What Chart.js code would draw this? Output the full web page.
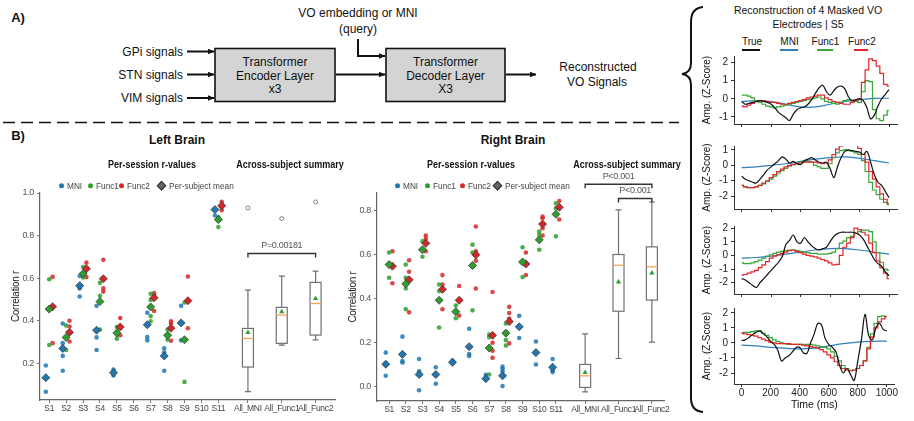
<!DOCTYPE html>
<html>
<head>
<meta charset="utf-8">
<script src="https://cdn.jsdelivr.net/npm/chart.js@4.4.1/dist/chart.umd.min.js"></script>
<style>
  body { margin: 0; background: #fff; font-family: "Liberation Sans", Arial, sans-serif; }
  #page { position: relative; width: 914px; height: 421px; overflow: hidden; background: #fff; }
  canvas { position: absolute; }
  svg { position: absolute; left: 0; top: 0; }
  .t { position: absolute; transform: translate(-50%, -50%); white-space: nowrap; line-height: 1; color: #111; }
  .b { font-weight: bold; }
  .sq { transform: translate(-50%, -50%) scaleX(0.9); }
  .lg { position: absolute; transform: translateY(-50%); white-space: nowrap; font-size: 9.5px; color: #444; line-height: 1; }
  .lg span { display: inline-block; transform: scaleX(0.87); transform-origin: left center; }
  .dot { display: inline-block; width: 5px; height: 5px; border-radius: 50%; margin-right: 3px; vertical-align: middle; position: relative; top: -1px; }
  .dia { display: inline-block; width: 5px; height: 5px; margin-right: 4px; margin-left: 1px; background: #666; border: 0.8px solid #333; transform: rotate(45deg); vertical-align: middle; position: relative; top: -1px; }
  .tl { position: absolute; height: 2px; }
</style>
</head>
<body>
<div id="page">
  <svg width="914" height="421" viewBox="0 0 914 421">
    <defs>
      <marker id="ah" markerWidth="7" markerHeight="6" refX="6.5" refY="3" orient="auto" markerUnits="userSpaceOnUse">
        <path d="M0,0 L7,3 L0,6 z" fill="#111"/>
      </marker>
    </defs>
    <g stroke="#111" stroke-width="2" fill="none">
      <line x1="187" y1="51.5" x2="214" y2="51.5" marker-end="url(#ah)"/>
      <line x1="187" y1="74.5" x2="214" y2="74.5" marker-end="url(#ah)"/>
      <line x1="187" y1="98" x2="214" y2="98" marker-end="url(#ah)"/>
      <line x1="336" y1="74.5" x2="385" y2="74.5" marker-end="url(#ah)"/>
      <path d="M358 39 L358 56 L385 56" marker-end="url(#ah)"/>
      <line x1="506" y1="74.5" x2="536" y2="74.5" marker-end="url(#ah)"/>
    </g>
    <rect x="215" y="48.5" width="120" height="53" fill="#d4d4d4" stroke="#111" stroke-width="1.6"/>
    <rect x="386" y="48.5" width="119" height="53" fill="#d4d4d4" stroke="#111" stroke-width="1.6"/>
    <g font-family="Liberation Sans, Arial, sans-serif" font-size="12" fill="#111">
      <text x="183" y="51.5" text-anchor="end" dominant-baseline="central">GPi signals</text>
      <text x="183" y="74.5" text-anchor="end" dominant-baseline="central">STN signals</text>
      <text x="183" y="98" text-anchor="end" dominant-baseline="central">VIM signals</text>
      <text x="275" y="62" text-anchor="middle" dominant-baseline="central">Transformer</text>
      <text x="275" y="75.5" text-anchor="middle" dominant-baseline="central">Encoder Layer</text>
      <text x="275" y="89" text-anchor="middle" dominant-baseline="central">x3</text>
      <text x="445.5" y="62" text-anchor="middle" dominant-baseline="central">Transformer</text>
      <text x="445.5" y="75.5" text-anchor="middle" dominant-baseline="central">Decoder Layer</text>
      <text x="445.5" y="89" text-anchor="middle" dominant-baseline="central">X3</text>
      <text x="358" y="13" text-anchor="middle" dominant-baseline="central">VO embedding or MNI</text>
      <text x="358" y="28.5" text-anchor="middle" dominant-baseline="central">(query)</text>
      <text x="598" y="66.5" text-anchor="middle" dominant-baseline="central">Reconstructed</text>
      <text x="597" y="81.5" text-anchor="middle" dominant-baseline="central">VO Signals</text>
    </g>
    <line x1="3" y1="122.5" x2="679" y2="122.5" stroke="#111" stroke-width="1.6" stroke-dasharray="12 6"/>
    <path d="M703 7 Q691 8 691 22 L691 63 Q691 73 682 74 Q691 75 691 85 L691 398 Q691 411 703 412" stroke="#111" stroke-width="2" fill="none"/>
  </svg>

  <canvas id="leftChart" width="340" height="256" style="left:0px;top:165px"></canvas>
  <canvas id="rightChart" width="332" height="256" style="left:340px;top:165px"></canvas>
  <canvas id="trace1" width="201" height="86" style="left:697px;top:47px"></canvas>
  <canvas id="trace2" width="201" height="81" style="left:697px;top:137px"></canvas>
  <canvas id="trace3" width="201" height="86" style="left:697px;top:217px"></canvas>
  <canvas id="trace4" width="201" height="115" style="left:697px;top:299px"></canvas>

  <div class="t b" style="left:18px;top:17px;font-size:13px">A)</div>
  <div class="t b" style="left:18px;top:135px;font-size:13px">B)</div>
  <div class="t b" style="left:177px;top:140px;font-size:12px">Left Brain</div>
  <div class="t b" style="left:513px;top:140px;font-size:12px">Right Brain</div>
  <div class="t b sq" style="left:152px;top:165px;font-size:10px">Per-session r-values</div>
  <div class="t b sq" style="left:290px;top:165px;font-size:10px">Across-subject summary</div>
  <div class="t b sq" style="left:471px;top:165px;font-size:10px">Per-session r-values</div>
  <div class="t b sq" style="left:627px;top:165px;font-size:10px">Across-subject summary</div>

  <div class="lg" style="left:59px;top:186px"><i class="dot" style="background:#1f77b4"></i><span>MNI</span></div>
  <div class="lg" style="left:88px;top:186px"><i class="dot" style="background:#2ca02c"></i><span>Func1</span></div>
  <div class="lg" style="left:119px;top:186px"><i class="dot" style="background:#d62728"></i><span>Func2</span></div>
  <div class="lg" style="left:157px;top:186px"><i class="dia"></i><span>Per-subject mean</span></div>
  <div class="lg" style="left:395px;top:186px"><i class="dot" style="background:#1f77b4"></i><span>MNI</span></div>
  <div class="lg" style="left:425px;top:186px"><i class="dot" style="background:#2ca02c"></i><span>Func1</span></div>
  <div class="lg" style="left:460px;top:186px"><i class="dot" style="background:#d62728"></i><span>Func2</span></div>
  <div class="lg" style="left:493px;top:186px"><i class="dia"></i><span>Per-subject mean</span></div>

  <div class="t" style="left:808px;top:10px;font-size:10.5px">Reconstruction of 4 Masked VO</div>
  <div class="t" style="left:808px;top:24px;font-size:10.5px">Electrodes | S5</div>
  <div class="t" style="left:752px;top:41.5px;font-size:10px">True</div>
  <div class="t" style="left:789.5px;top:41.5px;font-size:10px">MNI</div>
  <div class="t" style="left:825.5px;top:41.5px;font-size:10px">Func1</div>
  <div class="t" style="left:862px;top:41.5px;font-size:10px">Func2</div>
  <div class="tl" style="left:742px;top:48.5px;width:18px;background:#111"></div>
  <div class="tl" style="left:780px;top:48.5px;width:18px;background:#2e7ebc"></div>
  <div class="tl" style="left:817px;top:48.5px;width:16px;background:#3aa63a"></div>
  <div class="tl" style="left:854px;top:48.5px;width:14px;background:#e3262b"></div>
</div>

<script>
// ---- per-session r values (B) ----
const subjects = ['S1', 'S2', 'S3', 'S4', 'S5', 'S6', 'S7', 'S8', 'S9', 'S10', 'S11'];
const summaryLabels = ['All_MNI', 'All_Func1', 'All_Func2'];
const yTicksLeft = [0.2, 0.4, 0.6, 0.8, 1.0];
const yTicksRight = [0.0, 0.2, 0.4, 0.6, 0.8];

const leftMniSessions = [[0.19, 0.067], [0.387, 0.295, 0.235, 0.165], [0.61, 0.552, 0.514], [0.47, 0.322, 0.263], [0.171, 0.157, 0.143], [], [0.438, 0.324, 0.308], [0.271, 0.252, 0.165], [0.47, 0.308], [], [0.894]];
const leftFunc1Sessions = [[0.595, 0.286], [0.378, 0.263], [0.652, 0.603], [0.578, 0.517, 0.359], [0.371, 0.316], [], [0.527, 0.498, 0.422, 0.398], [0.359, 0.332, 0.311], [0.486, 0.113], [], [0.887, 0.84]];
const leftFunc2Sessions = [[0.606, 0.295], [0.40, 0.373, 0.303], [0.673, 0.605, 0.645], [0.686, 0.552, 0.537], [0.413, 0.332], [], [0.53, 0.517, 0.446], [0.397, 0.387, 0.306], [0.608, 0.365], [], [0.959, 0.919]];
const leftMniMeans = [0.133, 0.27, 0.565, 0.356, 0.156, null, 0.381, 0.235, 0.39, null, 0.922];
const leftFunc1Means = [0.455, 0.322, 0.621, 0.49, 0.343, null, 0.465, 0.332, 0.311, null, 0.875];
const leftFunc2Means = [0.466, 0.346, 0.644, 0.597, 0.371, null, 0.508, 0.365, 0.494, null, 0.94];
const leftBoxMin = [0.067, 0.286, 0.31];
const leftBoxQ1 = [0.183, 0.294, 0.333];
const leftBoxMedian = [0.317, 0.427, 0.481];
const leftBoxQ3 = [0.364, 0.463, 0.58];
const leftBoxMax = [0.544, 0.61, 0.633];
const leftBoxMean = [0.345, 0.442, 0.505];
const leftOutliers = [0.93, 0.88, 0.958];
const leftBracketFrom = ['All_MNI'];
const leftBracketTo = ['All_Func2'];
const leftBracketY = [0.716];
const leftBracketText = ['P=0.00181'];

const rightMniSessions = [[0.153, 0.047], [0.226, 0.114, 0.108], [0.124, 0.068, -0.019], [0.086, 0.011], [0.117, 0.105], [0.262, 0.147, 0.138], [0.052], [0.089, 0.079, 0.068, 0.0], [0.321, 0.22], [0.204, 0.099], [0.124, 0.071, 0.064]];
const rightFunc1Sessions = [[0.61, 0.495], [0.555, 0.495, 0.446, 0.351], [0.661, 0.591], [0.464, 0.434, 0.268], [0.368, 0.31], [0.646, 0.61, 0.346], [0.235, 0.223, 0.053], [0.286, 0.21, 0.185], [0.634, 0.498], [0.706, 0.691, 0.623], [0.835, 0.812, 0.684]];
const rightFunc2Sessions = [[0.616, 0.47], [0.575, 0.522, 0.337], [0.688, 0.673, 0.616], [0.507, 0.464, 0.351], [0.457, 0.322], [0.729, 0.616, 0.573, 0.446], [0.43, 0.198, 0.162, 0.129], [0.362, 0.334, 0.309, 0.195], [0.61, 0.507], [0.774, 0.767, 0.721, 0.688], [0.845, 0.818, 0.761]];
const rightMniMeans = [0.10, 0.145, 0.053, 0.053, 0.109, 0.18, 0.034, 0.047, 0.271, 0.153, 0.086];
const rightFunc1Means = [0.555, 0.467, 0.623, 0.392, 0.34, 0.551, 0.174, 0.242, 0.567, 0.668, 0.785];
const rightFunc2Means = [0.548, 0.486, 0.652, 0.442, 0.392, 0.60, 0.232, 0.295, 0.558, 0.74, 0.817];
const rightBoxMin = [-0.026, 0.126, 0.201];
const rightBoxQ1 = [-0.006, 0.342, 0.393];
const rightBoxMedian = [0.047, 0.552, 0.545];
const rightBoxQ3 = [0.099, 0.601, 0.636];
const rightBoxMax = [0.239, 0.805, 0.841];
const rightBoxMean = [0.062, 0.476, 0.517];
const rightOutliers = [null, null, null];
const rightBracketFrom = ['All_MNI', 'All_Func1'];
const rightBracketTo = ['All_Func2', 'All_Func2'];
const rightBracketY = [0.922, 0.857];
const rightBracketText = ['P<0.001', 'P<0.001'];

// ---- reconstruction traces (Z-score), S5 ----
const timeMs = [0, 25, 50, 75, 100, 125, 150, 175, 200, 225, 250, 275, 300, 325, 350, 375, 400, 425, 450, 475, 500, 525, 550, 575, 600, 625, 650, 675, 700, 725, 750, 775, 800, 825, 850, 875, 900, 925, 950, 975, 1000];
const timeCoarseMs = [0, 100, 200, 300, 400, 500, 600, 700, 800, 900, 1000];
const timeTicks = [0, 200, 400, 600, 800, 1000];

const e1True = [-0.15, -0.3, -0.25, -0.2, -0.15, -0.1, -0.15, -0.2, -0.3, -0.5, -0.75, -0.9, -1.05, -1.2, -0.85, -0.6, -0.5, -0.45, -0.3, -0.05, 0.3, 0.6, 0.75, 0.4, 0.2, 0.45, 0.65, 0.7, 0.55, 0.1, -0.1, -0.05, 0.0, -0.1, -0.5, -1.1, -0.9, -0.4, 0.0, 0.25, 0.5];
const e1Mni = [-0.15, -0.1, -0.15, -0.3, -0.45, -0.45, -0.3, -0.15, -0.05, 0.02, 0.03];
const e1Func1 = [0.2, 0.2, 0.15, 0.05, -0.1, -0.2, -0.3, -0.4, -0.45, -0.5, -0.45, -0.4, -0.35, -0.3, -0.25, -0.2, -0.15, -0.1, -0.05, 0.0, 0.05, 0.1, 0.0, -0.15, -0.2, -0.25, -0.3, -0.2, -0.1, -0.05, -0.1, -0.15, -0.2, 0.4, 1.0, 0.95, -0.6, -1.1, -1.2, -0.9, -0.65];
const e1Func2 = [-0.4, -0.45, -0.35, -0.25, -0.15, -0.1, -0.1, -0.15, -0.2, -0.2, -0.25, -0.3, -0.3, -0.25, -0.2, -0.15, -0.1, -0.05, 0.05, 0.1, 0.15, 0.2, 0.2, 0.05, -0.05, -0.15, -0.2, -0.25, -0.3, -0.3, -0.2, -0.1, 0.0, 0.9, 1.6, 2.2, 2.1, 1.8, 1.4, 0.8, 0.7];

const e2True = [-0.7, -0.9, -1.0, -1.1, -1.15, -0.9, -0.6, -0.3, -0.1, 0.1, 0.3, 0.55, 0.4, 0.15, 0.25, 0.1, 0.05, 0.3, 0.4, 0.5, 0.35, 0.2, 0.15, 0.2, -0.2, -0.8, -0.1, 0.5, 0.9, 1.0, 0.95, 0.9, 0.85, 0.7, 0.9, 0.2, -0.6, -1.1, -1.3, -1.7, -2.1];
const e2Mni = [-0.15, -0.1, 0.0, 0.1, 0.25, 0.4, 0.5, 0.55, 0.45, 0.3, 0.15];
const e2Func1 = [-1.3, -1.4, -1.45, -1.45, -1.4, -1.3, -1.2, -1.05, -0.9, -0.7, -0.5, -0.35, -0.2, -0.05, 0.05, 0.15, 0.2, 0.25, 0.25, 0.2, 0.0, -0.1, -0.2, -0.2, 0.1, 0.5, 0.8, 0.95, 1.0, 0.95, 0.9, 0.8, 0.7, 0.3, -0.4, -1.1, -1.6, -1.9, -2.2, -2.4, -2.55];
const e2Func2 = [-1.3, -1.4, -1.45, -1.45, -1.4, -1.3, -1.15, -1.0, -0.8, -0.6, -0.4, -0.25, -0.1, 0.0, 0.05, 0.1, 0.15, 0.2, 0.2, 0.2, 0.2, 0.15, 0.1, 0.15, 0.35, 0.7, 1.05, 1.25, 1.35, 1.4, 1.35, 1.3, 1.1, 0.7, 0.2, -0.4, -0.9, -1.4, -1.85, -2.2, -2.45];

const e3True = [-1.7, -1.8, -2.0, -2.2, -2.35, -2.0, -1.7, -1.4, -1.1, -0.8, -0.5, -0.1, 0.8, 1.1, 1.5, 1.0, 0.9, 1.3, 1.0, 0.7, 0.5, 0.4, 0.5, 0.6, 1.0, 1.4, 1.6, 1.7, 1.7, 1.7, 1.7, 1.65, 1.5, 1.2, 0.7, 0.2, -0.3, -0.6, -0.8, -1.2, -1.5];
const e3Mni = [-0.2, -0.15, -0.05, 0.1, 0.25, 0.4, 0.5, 0.5, 0.4, 0.25, 0.1];
const e3Func1 = [-0.55, -0.6, -0.6, -0.55, -0.45, -0.35, -0.2, -0.05, 0.05, 0.15, 0.25, 0.3, 0.35, 0.4, 0.4, 0.35, 0.3, 0.25, 0.2, 0.15, 0.15, 0.1, 0.1, 0.1, 0.15, 0.25, 0.5, 0.9, 1.05, 1.3, 1.4, 1.6, 1.75, 1.85, 1.85, 1.75, 1.0, 0.2, -0.5, -1.0, -1.1];
const e3Func2 = [-1.45, -1.4, -1.3, -1.2, -1.1, -0.9, -0.7, -0.45, -0.2, -0.05, 0.05, 0.15, 0.25, 0.35, 0.4, 0.3, 0.2, 0.1, 0.0, -0.05, -0.1, -0.2, -0.3, -0.4, -0.55, -0.7, -0.65, 0.0, 0.6, 0.9, 1.3, 2.0, 1.9, 1.7, 1.5, 0.9, 0.2, -0.4, -0.9, -1.3, -1.7];

const e4True = [0.15, 0.2, 0.35, 0.55, 0.7, 0.8, 0.6, 0.4, 0.1, -0.1, -0.5, -1.2, -1.0, -0.85, -0.6, -0.3, -0.3, -0.65, -0.7, 0.0, 0.6, 1.3, 1.2, 0.3, -0.1, -0.3, -0.6, -1.5, -2.0, -1.7, -2.1, -2.5, -1.2, 0.2, 1.9, 0.5, 0.2, 1.0, 1.3, 0.9, 0.8];
const e4Mni = [-0.15, -0.2, -0.3, -0.35, -0.4, -0.35, -0.2, -0.05, 0.05, 0.1, 0.12];
const e4Func1 = [0.65, 0.7, 0.7, 0.75, 0.8, 0.8, 0.65, 0.5, 0.35, 0.2, 0.1, 0.0, -0.05, -0.1, -0.1, -0.1, -0.1, -0.1, -0.1, -0.1, -0.15, -0.2, -0.25, -0.3, -0.4, -0.6, -0.9, -1.2, -1.5, -1.7, -1.85, -1.8, -1.7, -1.5, -1.2, -0.3, 0.6, 1.3, 1.75, 1.8, 1.75];
const e4Func2 = [0.65, 0.6, 0.55, 0.5, 0.45, 0.35, 0.25, 0.15, 0.05, 0.0, -0.05, -0.05, -0.05, -0.05, -0.1, -0.1, -0.1, -0.15, -0.2, -0.25, -0.3, -0.35, -0.45, -0.6, -0.8, -1.0, -1.25, -1.5, -1.7, -1.8, -1.85, -1.8, -1.7, -1.5, -1.2, -0.4, 0.4, 1.0, 1.4, 1.6, 1.75];

// ---- styling / layout ----
const FONT = '"Liberation Sans", Arial, sans-serif';
Chart.defaults.font.family = FONT;
Chart.defaults.animation = false;

const colMni = '#1f77b4', colF1 = '#2ca02c', colF2 = '#d62728';
const traceTrue = '#111111', traceMni = '#2e7ebc', traceF1 = '#3aa63a', traceF2 = '#e3262b';

// x slot of each category; the summary boxes sit wider apart
const slotX = [1, 2, 3, 4, 5, 6, 7, 8, 9, 10, 11, 12.75, 14.75, 16.75];
const allLabels = subjects.concat(summaryLabels);
const slotOf = name => slotX[allLabels.indexOf(name)];

function sessionPoints(sessions, offset) {
    const pts = [];
    sessions.forEach((vals, i) => vals.forEach(v => pts.push({ x: slotX[i] + offset, y: v })));
    return pts;
}

function meanPoints(means, offset) {
    const pts = [];
    means.forEach((v, i) => { if (v !== null) pts.push({ x: slotX[i] + offset, y: v }); });
    return pts;
}

function summaryPoints(vals) {
    const pts = [];
    vals.forEach((v, i) => { if (v !== null) pts.push({ x: slotX[11 + i], y: v }); });
    return pts;
}

// tighter letters so the long summary tick labels do not run together
const tightText = {
    id: 'tightText',
    beforeDraw(chart) { chart.ctx.letterSpacing = '-0.3px'; },
    afterDraw(chart) { chart.ctx.letterSpacing = '0px'; }
};

function boxPlugin(s) {
    return {
        id: 'boxes',
        beforeDatasetsDraw(chart) {
            const { ctx, scales: { x, y } } = chart;
            const py = v => y.getPixelForValue(v);
            ctx.save();
            s.min.forEach((mn, i) => {
                const cx = x.getPixelForValue(slotX[11 + i]);
                const half = 5.5, cap = 3;
                ctx.strokeStyle = '#707070';
                ctx.lineWidth = 1.2;
                ctx.beginPath();
                ctx.moveTo(cx, py(mn)); ctx.lineTo(cx, py(s.q1[i]));
                ctx.moveTo(cx, py(s.q3[i])); ctx.lineTo(cx, py(s.max[i]));
                ctx.moveTo(cx - cap, py(mn)); ctx.lineTo(cx + cap, py(mn));
                ctx.moveTo(cx - cap, py(s.max[i])); ctx.lineTo(cx + cap, py(s.max[i]));
                ctx.stroke();
                ctx.strokeRect(cx - half, py(s.q3[i]), 2 * half, py(s.q1[i]) - py(s.q3[i]));
                ctx.strokeStyle = '#f6a25a';
                ctx.lineWidth = 1.3;
                ctx.beginPath();
                ctx.moveTo(cx - half, py(s.median[i])); ctx.lineTo(cx + half, py(s.median[i]));
                ctx.stroke();
            });
            ctx.restore();
        }
    };
}

function bracketPlugin(from, to, yv, text) {
    return {
        id: 'brackets',
        afterDatasetsDraw(chart) {
            const { ctx, scales: { x, y } } = chart;
            ctx.save();
            from.forEach((f, i) => {
                const x1 = x.getPixelForValue(slotOf(f));
                const x2 = x.getPixelForValue(slotOf(to[i]));
                const p = y.getPixelForValue(yv[i]);
                ctx.strokeStyle = '#333';
                ctx.lineWidth = 1.4;
                ctx.beginPath();
                ctx.moveTo(x1, p + 4); ctx.lineTo(x1, p); ctx.lineTo(x2, p); ctx.lineTo(x2, p + 4);
                ctx.stroke();
                ctx.fillStyle = '#555';
                ctx.font = '9px ' + FONT;
                ctx.textAlign = 'center';
                ctx.textBaseline = 'middle';
                ctx.fillText(text[i], (x1 + x2) / 2, p - 8);
            });
            ctx.restore();
        }
    };
}

function brainChart(id, o) {
    const pointSet = (label, data, color, order) => ({
        label, data, order,
        pointRadius: 2.3, pointStyle: 'circle',
        pointBackgroundColor: color, pointBorderWidth: 0
    });
    const meanSet = (label, data, color) => ({
        label, data, order: 0,
        pointRadius: 4, pointStyle: 'rectRot',
        pointBackgroundColor: color, pointBorderColor: '#3a3a3a', pointBorderWidth: 0.8
    });
    new Chart(document.getElementById(id), {
        type: 'scatter',
        data: {
            datasets: [
                meanSet('MNI mean', meanPoints(o.mniMeans, -0.2), colMni),
                meanSet('Func1 mean', meanPoints(o.f1Means, 0), colF1),
                meanSet('Func2 mean', meanPoints(o.f2Means, 0.2), colF2),
                pointSet('MNI', sessionPoints(o.mni, -0.2), 'rgba(31,119,180,0.85)', 1),
                pointSet('Func1', sessionPoints(o.f1, 0), 'rgba(44,160,44,0.85)', 1),
                pointSet('Func2', sessionPoints(o.f2, 0.2), 'rgba(214,39,40,0.85)', 1),
                {
                    label: 'Mean', data: summaryPoints(o.boxMean), order: 0,
                    pointRadius: 3, pointStyle: 'triangle', pointBackgroundColor: '#2ca02c', pointBorderWidth: 0
                },
                {
                    label: 'Outliers', data: summaryPoints(o.outliers), order: 0,
                    pointRadius: 2, pointStyle: 'circle', pointBackgroundColor: '#fff',
                    pointBorderColor: '#666', pointBorderWidth: 0.8
                }
            ]
        },
        options: {
            responsive: false,
            animation: false,
            layout: { padding: { top: 28, right: 2, left: 0, bottom: 0 } },
            plugins: { legend: { display: false }, tooltip: { enabled: false } },
            scales: {
                x: {
                    type: 'linear', min: o.xMin, max: o.xMax,
                    afterBuildTicks: s => { s.ticks = slotX.map(v => ({ value: v })); },
                    afterFit: s => { s.height = o.xHeight; },
                    ticks: {
                        autoSkip: false, maxRotation: 0, padding: 1,
                        font: { size: 8.5 }, color: '#444',
                        callback: v => allLabels[slotX.indexOf(v)]
                    },
                    grid: { drawOnChartArea: false, tickLength: 3, color: '#777' },
                    border: { color: '#666', width: 1.2 }
                },
                y: {
                    min: o.yMin, max: o.yMax,
                    afterBuildTicks: s => { s.ticks = o.yTicks.map(v => ({ value: v })); },
                    afterFit: s => { s.width = o.yWidth; },
                    ticks: { font: { size: 9 }, color: '#555', padding: 3, callback: v => v.toFixed(1) },
                    grid: { drawOnChartArea: false, tickLength: 3, color: '#777' },
                    border: { color: '#666', width: 1.2 },
                    title: { display: true, text: 'Correlation r', font: { size: 10 }, color: '#222', padding: { top: o.titlePad, bottom: 0 } }
                }
            }
        },
        plugins: [
            tightText,
            boxPlugin({ min: o.boxMin, q1: o.boxQ1, median: o.boxMedian, q3: o.boxQ3, max: o.boxMax }),
            bracketPlugin(o.brFrom, o.brTo, o.brY, o.brText)
        ]
    });
}

brainChart('leftChart', {
    mni: leftMniSessions, f1: leftFunc1Sessions, f2: leftFunc2Sessions,
    mniMeans: leftMniMeans, f1Means: leftFunc1Means, f2Means: leftFunc2Means,
    boxMin: leftBoxMin, boxQ1: leftBoxQ1, boxMedian: leftBoxMedian, boxQ3: leftBoxQ3, boxMax: leftBoxMax,
    boxMean: leftBoxMean, outliers: leftOutliers,
    brFrom: leftBracketFrom, brTo: leftBracketTo, brY: leftBracketY, brText: leftBracketText,
    yTicks: yTicksLeft, yMin: 0.028, yMax: 1.0, xMin: 0.455, xMax: 17.91,
    yWidth: 40, xHeight: 21, titlePad: 10
});

brainChart('rightChart', {
    mni: rightMniSessions, f1: rightFunc1Sessions, f2: rightFunc2Sessions,
    mniMeans: rightMniMeans, f1Means: rightFunc1Means, f2Means: rightFunc2Means,
    boxMin: rightBoxMin, boxQ1: rightBoxQ1, boxMedian: rightBoxMedian, boxQ3: rightBoxQ3, boxMax: rightBoxMax,
    boxMean: rightBoxMean, outliers: rightOutliers,
    brFrom: rightBracketFrom, brTo: rightBracketTo, brY: rightBracketY, brText: rightBracketText,
    yTicks: yTicksRight, yMin: -0.068, yMax: 0.882, xMin: 0.276, xMax: 17.53,
    yWidth: 37, xHeight: 20, titlePad: 7
});

function xy(times, vals) {
    return times.map((t, i) => ({ x: t, y: vals[i] }));
}

function tracePanel(id, o) {
    new Chart(document.getElementById(id), {
        type: 'line',
        data: {
            datasets: [
                { label: 'True', data: xy(timeMs, o.tru), borderColor: traceTrue, borderWidth: 1.2, tension: 0.35, order: 0 },
                { label: 'Func2', data: xy(timeMs, o.f2), borderColor: traceF2, borderWidth: 1.2, stepped: 'middle', order: 1 },
                { label: 'Func1', data: xy(timeMs, o.f1), borderColor: traceF1, borderWidth: 1.2, stepped: 'middle', order: 2 },
                { label: 'MNI', data: xy(timeCoarseMs, o.mni), borderColor: traceMni, borderWidth: 1.2, tension: 0.4, order: 3 }
            ]
        },
        options: {
            responsive: false,
            animation: false,
            layout: { padding: { top: 6, right: 1, left: 0, bottom: 0 } },
            elements: { point: { radius: 0 } },
            plugins: { legend: { display: false }, tooltip: { enabled: false } },
            scales: {
                x: {
                    type: 'linear', min: -52, max: 1054,
                    afterBuildTicks: s => { s.ticks = timeTicks.map(v => ({ value: v })); },
                    afterFit: s => { s.height = o.showTime ? 30 : 4; },
                    ticks: { display: o.showTime, autoSkip: false, maxRotation: 0, padding: 0, font: { size: 10 }, color: '#222', callback: v => String(v) },
                    grid: { drawOnChartArea: false, tickLength: 3, color: '#333' },
                    border: { color: '#333', width: 1 },
                    title: { display: o.showTime, text: 'Time (ms)', font: { size: 10.5 }, color: '#111', padding: { top: 0, bottom: 3 } }
                },
                y: {
                    min: o.yMin, max: o.yMax,
                    afterBuildTicks: s => { s.ticks = o.yTicks.map(v => ({ value: v })); },
                    afterFit: s => { s.width = 37; },
                    ticks: { font: { size: 10 }, color: '#222', padding: 3, callback: v => String(v) },
                    grid: { drawOnChartArea: false, tickLength: 3, color: '#333' },
                    border: { color: '#333', width: 1 },
                    title: { display: true, text: 'Amp. (Z-Score)', font: { size: 10 }, color: '#111', padding: { top: 4, bottom: 0 } }
                }
            }
        }
    });
}

tracePanel('trace1', { tru: e1True, mni: e1Mni, f1: e1Func1, f2: e1Func2, yMin: -1.39, yMax: 2.36, yTicks: [-1, 0, 1, 2], showTime: false });
tracePanel('trace2', { tru: e2True, mni: e2Mni, f1: e2Func1, f2: e2Func2, yMin: -2.83, yMax: 1.25, yTicks: [-2, -1, 0, 1], showTime: false });
tracePanel('trace3', { tru: e3True, mni: e3Mni, f1: e3Func1, f2: e3Func2, yMin: -2.83, yMax: 2.16, yTicks: [-2, -1, 0, 1, 2], showTime: false });
tracePanel('trace4', { tru: e4True, mni: e4Mni, f1: e4Func1, f2: e4Func2, yMin: -2.73, yMax: 2.32, yTicks: [-2, -1, 0, 1, 2], showTime: true });
</script>
</body>
</html>
